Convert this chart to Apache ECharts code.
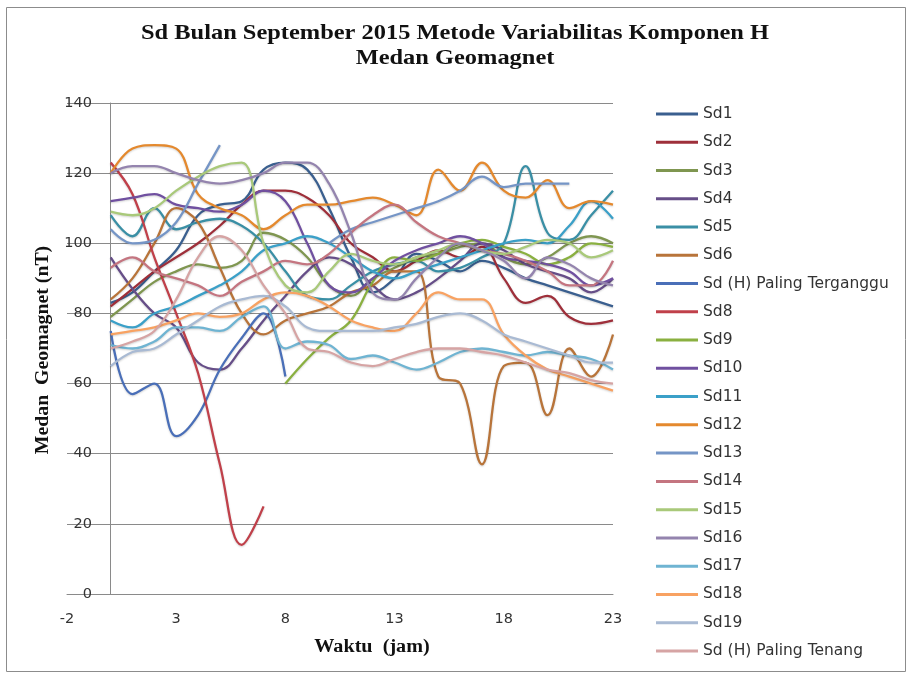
<!DOCTYPE html>
<html>
<head>
<meta charset="utf-8">
<script src="https://cdn.jsdelivr.net/npm/echarts@6/dist/echarts.min.js"></script>
<style>
html,body{margin:0;padding:0;background:#fff;}
#chart{width:909px;height:675px;}
</style>
</head>
<body>
<div id="chart"></div>
<script>
const hours = [0,1,2,3,4,5,6,7,8,9,10,11,12,13,14,15,16,17,18,19,20,21,22,23];
const seriesNames = ["Sd1","Sd2","Sd3","Sd4","Sd5","Sd6","Sd (H) Paling Terganggu","Sd8","Sd9","Sd10","Sd11","Sd12","Sd13","Sd14","Sd15","Sd16","Sd17","Sd18","Sd19","Sd (H) Paling Tenang"];
const xTicks = [-2,3,8,13,18,23];
const yTicks = [0,20,40,60,80,100,120,140];
const titleLine1 = 'Sd Bulan September 2015 Metode Variabilitas Komponen H';
const titleLine2 = 'Medan Geomagnet';
const xName = 'Waktu  (jam)';
const yName = 'Medan  Geomagnet (nT)';

const sd1 = [83,86,92,98,108,111,112,121,123,121,110,96,86,90,97,95,92,95,93,90,88,86,84,82];
const sd2 = [82,87,92,96,100,105,111,115,115,113,108,100,96,92,95,98,96,99,90,83,85,79,77,78];
const sd3 = [79,84,89,92,94,93,95,103,101,96,88,85,90,93,96,97,99,100,96,94,96,100,102,100];
const sd4 = [96,87,80,76,66,64,70,78,85,92,96,94,88,84,86,90,95,100,98,94,92,90,86,90];
const sd5 = [108,102,110,104,106,107,105,100,92,85,84,88,92,94,95,92,93,96,100,122,103,101,108,115];
const sd6 = [84,90,100,110,106,93,80,74,78,80,82,86,88,92,92,62,60,37,65,66,51,70,62,74];
const sd7 = [75,57,60,45,51,64,73,80,62];
const sd8 = [123,114,96,80,63,37,14,25];
const sd9 = [null,null,null,null,null,null,null,null,60,67,73,78,89,96,95,97,100,101,99,97,94,96,100,99];
const sd10 = [112,113,114,111,110,109,111,115,112,100,88,86,90,95,98,100,102,100,96,95,94,92,88,90];
const sd11 = [78,76,80,82,85,88,92,98,100,102,100,96,92,90,92,94,96,98,100,101,100,105,112,107];
const sd12 = [120,127,128,127,114,110,108,104,108,111,111,112,113,111,108,121,115,123,115,113,118,110,112,111];
const sd13 = [104,100,101,106,117,128,null,null,null,null,100,104,106,108,110,112,115,119,116,117,117,117];
const sd14 = [93,96,92,90,88,85,89,92,95,94,97,103,108,111,106,102,100,98,97,95,92,88,88,95];
const sd15 = [109,108,110,115,119,122,123,100,88,86,92,97,95,94,96,98,100,98,97,99,101,100,96,98];
const sd16 = [120,122,122,120,118,117,118,120,123,123,117,103,86,84,90,96,100,98,95,90,96,94,90,88];
const sd17 = [71,70,72,76,76,75,79,82,70,72,71,67,68,66,64,66,69,70,69,68,69,68,67,64];
const sd18 = [74,75,76,78,80,79,80,84,86,85,82,78,76,75,80,86,84,84,74,68,64,62,60,58];
const sd19 = [65,69,70,74,78,82,84,85,82,76,75,75,75,76,77,79,80,78,74,72,70,68,66,66];
const sd20 = [70,72,75,84,96,102,98,88,80,70,69,66,65,67,69,70,70,69,68,66,64,63,61,60];

const allValues = [sd1,sd2,sd3,sd4,sd5,sd6,sd7,sd8,sd9,sd10,sd11,sd12,sd13,sd14,sd15,sd16,sd17,sd18,sd19,sd20];
const colors = ["#3A5F8F","#9E2F3A","#7F9650","#664E88","#3A8FA5","#B8743A",
                "#4A6FB8","#C0404A","#8AB040","#7050A0","#3BA0C8","#E4892E",
                "#7595C6","#C47580","#A9C97A","#9484AE","#6FB4D2","#F8A262",
                "#A9BAD3","#D6A4A4"];

const chart = echarts.init(document.getElementById('chart'), null, {renderer:'canvas'});
const series = allValues.map((vals, i) => ({
  name: seriesNames[i],
  type: 'line',
  smooth: 0.4,
  showSymbol: false,
  symbol: 'none',
  connectNulls: false,
  data: vals.map((v, j) => [hours[j], v === null ? '-' : v]),
  lineStyle: {width: 2.3, color: colors[i], shadowColor: 'rgba(0,0,0,0.18)', shadowBlur: 2, shadowOffsetY: 1},
  itemStyle: {color: colors[i]},
  emphasis: {disabled: true},
  z: 3
}));

const serifBold = {fontFamily: 'Liberation Serif', fontWeight: 'bold', fill: '#111', align: 'center', verticalAlign: 'middle'};

chart.setOption({
  animation: false,
  color: colors,
  graphic: [
    {type: 'rect', left: 4, top: 5, shape: {width: 899, height: 664},
     style: {fill: 'none', stroke: '#8c8c8c', lineWidth: 1}, z: -1},
    {type: 'text', x: 455, y: 33, scaleX: 1.11,
     style: Object.assign({text: titleLine1, fontSize: 22}, serifBold)},
    {type: 'text', x: 455, y: 58, scaleX: 1.11,
     style: Object.assign({text: titleLine2, fontSize: 22}, serifBold)},
    {type: 'text', x: 372, y: 647, scaleX: 1.12,
     style: Object.assign({text: xName, fontSize: 18}, serifBold)},
    {type: 'text', x: 43, y: 350, rotation: Math.PI / 2, scaleX: 1.1,
     style: Object.assign({text: yName, fontSize: 18}, serifBold)}
  ],
  legend: {
    orient: 'vertical', left: 651, top: 100,
    icon: 'rect', itemWidth: 42, itemHeight: 3, itemGap: 10.26,
    textStyle: {fontFamily: 'DejaVu Sans', fontSize: 15.5, color: '#333', lineHeight: 18},
    data: seriesNames
  },
  grid: {left: 67, right: 296, top: 103, bottom: 81, containLabel: false, outerBoundsMode: 'none'},
  xAxis: {
    type: 'value', min: -2, max: 23, interval: 5,
    axisLine: {onZero: true, lineStyle: {color: '#8a8a8a', width: 1}},
    axisTick: {show: false},
    axisLabel: {margin: 18, fontFamily: 'DejaVu Sans', fontSize: 14.5, color: '#333',
      formatter: v => xTicks.indexOf(v) >= 0 ? String(v) : ''},
    splitLine: {show: false}
  },
  yAxis: {
    type: 'value', min: 0, max: 140, interval: 20,
    axisLine: {show: true, onZero: true, lineStyle: {color: '#8a8a8a', width: 1}},
    axisTick: {show: false},
    axisLabel: {margin: -25, fontFamily: 'DejaVu Sans', fontSize: 14.5, color: '#333',
      formatter: v => yTicks.indexOf(v) >= 0 ? String(v) : ''},
    splitLine: {show: true, lineStyle: {color: '#8a8a8a', width: 1}}
  },
  series: series
});
</script>
</body>
</html>
